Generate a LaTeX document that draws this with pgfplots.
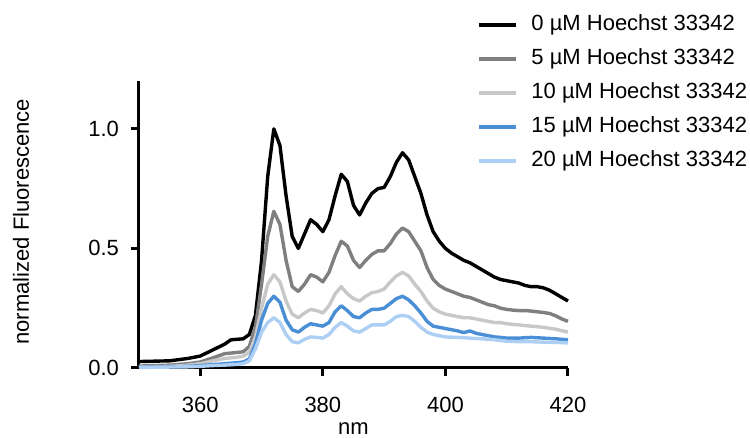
\documentclass[border=0pt]{standalone}
\usepackage{fontspec}
\setmainfont{Liberation Sans}
\usepackage{pgfplots}
\pgfplotsset{compat=1.18}
\definecolor{hZero}{HTML}{000000}
\definecolor{hFive}{HTML}{7F7F7F}
\definecolor{hTen}{HTML}{C8C8C8}
\definecolor{hFifteen}{HTML}{4A8FD6}
\definecolor{hTwenty}{HTML}{AECFF4}
\pgfplotsset{
  spec/.style={line width=1.7pt,line join=round,mark=none},
}
\begin{document}
\begin{tikzpicture}
\path[use as bounding box] (-69.5pt,-35pt) rectangle (305.5pt,184pt);
\begin{axis}[
  at={(0pt,0pt)},anchor=south west,
  scale only axis,width=214.5pt,height=143.5pt,
  xmin=350,xmax=420,ymin=0,ymax=1.2,
  axis lines=left,axis line style={-,line width=1.5pt},
  xtick={360,380,400,420},ytick={0,0.5,1},
  tick align=outside,major tick length=4pt,
  tick style={line width=1.5pt,black},
  /pgf/number format/assume math mode=true,
  tick label style={font=\fontsize{11}{13}\selectfont},
  xticklabel style={yshift=-7pt},
  yticklabel style={xshift=-2.5pt,/pgf/number format/.cd,fixed,fixed zerofill,precision=1},
  label style={font=\fontsize{11}{13}\selectfont},
  xlabel={nm},ylabel={normalized Fluorescence},
  xlabel style={at={(axis description cs:0.5,0)},anchor=center,yshift=-30.5pt,inner sep=1pt},
  ylabel style={at={(axis description cs:-0.275,0.51)},anchor=center},
  legend style={at={(axis description cs:0.788,1.233)},anchor=north west,
    draw=none,fill=none,inner sep=0pt,font=\fontsize{11}{13}\selectfont,
    nodes={inner sep=0pt,text height=8pt,text depth=2.5pt},
    row sep=6.5pt,
    /tikz/every odd column/.append style={column sep=6.5pt}},
  legend cell align=left,
  legend image code/.code={\draw[#1,line width=2pt] (0pt,0pt) -- (18.5pt,0pt);},
  clip=false,
]
% 0 uM
\addplot[spec,hZero] coordinates {
(350,0.027)(355,0.03)(358,0.04)(360,0.05)(362,0.075)(364,0.10)(365,0.118)(367,0.122)
(368,0.14)(369,0.22)(370,0.45)(371,0.80)(372,1.0)(373,0.93)(374,0.72)(375,0.55)
(376,0.50)(377,0.56)(378,0.62)(379,0.60)(380,0.57)(381,0.62)(382,0.72)(383,0.81)
(384,0.78)(385,0.68)(386,0.64)(387,0.69)(388,0.73)(389,0.75)(390,0.755)(391,0.80)
(392,0.86)(393,0.90)(394,0.87)(395,0.80)(396,0.73)(397,0.64)(398,0.57)(399,0.53)
(400,0.50)(401,0.48)(402,0.465)(403,0.45)(404,0.44)(405,0.425)(406,0.41)(407,0.395)
(408,0.38)(409,0.37)(410,0.365)(411,0.36)(412,0.355)(413,0.345)(414,0.34)(415,0.34)
(416,0.335)(417,0.325)(418,0.31)(419,0.295)(420,0.28)};
% 5 uM
\addplot[spec,hFive] coordinates {
(350,0.008)(355,0.012)(358,0.018)(360,0.025)(362,0.042)(364,0.06)(366,0.065)(367,0.068)
(368,0.09)(369,0.17)(370,0.35)(371,0.55)(372,0.655)(373,0.60)(374,0.45)(375,0.34)
(376,0.32)(377,0.35)(378,0.39)(379,0.38)(380,0.36)(381,0.40)(382,0.47)(383,0.53)
(384,0.51)(385,0.45)(386,0.42)(387,0.45)(388,0.475)(389,0.49)(390,0.49)(391,0.52)
(392,0.56)(393,0.585)(394,0.57)(395,0.53)(396,0.49)(397,0.42)(398,0.37)(399,0.345)
(400,0.33)(401,0.32)(402,0.31)(403,0.30)(404,0.295)(405,0.285)(406,0.275)(407,0.265)
(408,0.26)(409,0.25)(410,0.245)(411,0.242)(412,0.24)(413,0.24)(414,0.238)(415,0.235)
(416,0.232)(417,0.228)(418,0.218)(419,0.205)(420,0.195)};
% 10 uM
\addplot[spec,hTen] coordinates {
(350,0.004)(355,0.007)(358,0.012)(360,0.018)(362,0.03)(364,0.04)(366,0.045)(367,0.05)
(368,0.065)(369,0.13)(370,0.25)(371,0.35)(372,0.39)(373,0.36)(374,0.28)(375,0.225)
(376,0.21)(377,0.23)(378,0.245)(379,0.24)(380,0.23)(381,0.26)(382,0.31)(383,0.34)
(384,0.31)(385,0.29)(386,0.28)(387,0.30)(388,0.315)(389,0.32)(390,0.33)(391,0.36)
(392,0.385)(393,0.40)(394,0.385)(395,0.35)(396,0.32)(397,0.28)(398,0.25)(399,0.235)
(400,0.225)(401,0.22)(402,0.215)(403,0.21)(404,0.21)(405,0.205)(406,0.20)(407,0.195)
(408,0.19)(409,0.19)(410,0.185)(412,0.18)(414,0.175)(416,0.17)(418,0.162)(420,0.15)};
% 15 uM
\addplot[spec,hFifteen] coordinates {
(350,0.003)(355,0.005)(358,0.007)(360,0.01)(362,0.014)(364,0.018)(366,0.022)(367,0.025)
(368,0.037)(369,0.10)(370,0.20)(371,0.27)(372,0.30)(373,0.275)(374,0.20)(375,0.16)
(376,0.15)(377,0.17)(378,0.185)(379,0.18)(380,0.175)(381,0.19)(382,0.235)(383,0.26)
(384,0.24)(385,0.215)(386,0.21)(387,0.23)(388,0.245)(389,0.245)(390,0.25)(391,0.27)
(392,0.29)(393,0.30)(394,0.285)(395,0.26)(396,0.23)(397,0.195)(398,0.175)(399,0.17)
(400,0.165)(401,0.16)(402,0.155)(403,0.148)(404,0.155)(405,0.145)(406,0.14)(407,0.135)
(408,0.13)(409,0.128)(410,0.125)(412,0.125)(414,0.128)(416,0.125)(418,0.122)(420,0.118)};
% 20 uM
\addplot[spec,hTwenty] coordinates {
(350,0.002)(355,0.004)(358,0.005)(360,0.007)(362,0.01)(364,0.012)(366,0.015)(367,0.018)
(368,0.03)(369,0.08)(370,0.15)(371,0.19)(372,0.21)(373,0.19)(374,0.14)(375,0.11)
(376,0.105)(377,0.12)(378,0.13)(379,0.128)(380,0.125)(381,0.14)(382,0.17)(383,0.19)
(384,0.175)(385,0.155)(386,0.15)(387,0.165)(388,0.18)(389,0.18)(390,0.18)(391,0.195)
(392,0.215)(393,0.22)(394,0.215)(395,0.195)(396,0.17)(397,0.15)(398,0.14)(399,0.135)
(400,0.13)(402,0.128)(404,0.125)(406,0.122)(408,0.118)(410,0.112)(412,0.11)(414,0.11)
(416,0.108)(418,0.107)(420,0.105)};
\legend{0 µM Hoechst 33342,5 µM Hoechst 33342,10 µM Hoechst 33342,15 µM Hoechst 33342,20 µM Hoechst 33342}
\end{axis}
\end{tikzpicture}
\end{document}
